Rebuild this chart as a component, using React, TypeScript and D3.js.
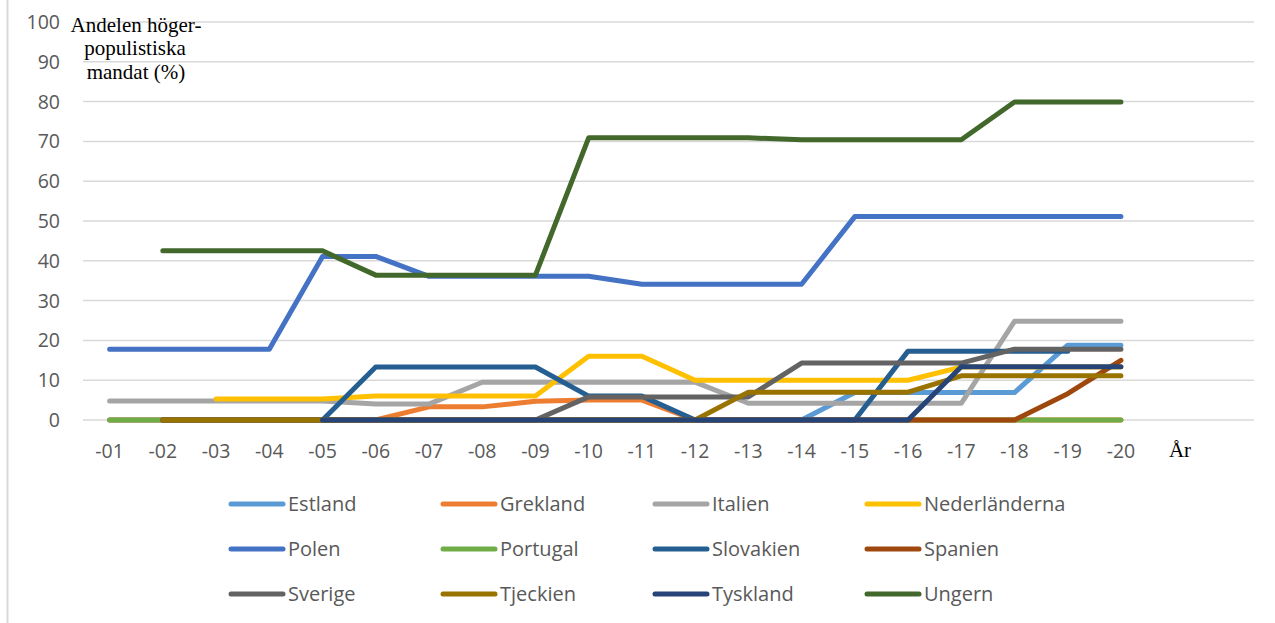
import React from "react";
import * as d3 from "d3";

const years = ["-01","-02","-03","-04","-05","-06","-07","-08","-09","-10","-11","-12","-13","-14","-15","-16","-17","-18","-19","-20"];
const extraCats = ["År", ""];
const yTicks = [0,10,20,30,40,50,60,70,80,90,100];

type V = number | null;
const estland: V[] =       [0,0,0,0,0,0,0,0,0,0,0,0,0,0,6.9,6.9,6.9,6.9,18.8,18.8];
const grekland: V[] =      [0,0,0,0,0,0,3.3,3.3,4.7,5.0,5.0,0,0,0,0,0,0,0,0,0];
const italien: V[] =       [4.8,4.8,4.8,4.8,4.8,4.0,4.0,9.5,9.5,9.5,9.5,9.5,4.2,4.2,4.2,4.2,4.2,24.8,24.8,24.8];
const nederlanderna: V[] = [null,null,5.3,5.3,5.3,6.0,6.0,6.0,6.0,16.0,16.0,10.0,10.0,10.0,10.0,10.0,13.3,13.3,13.3,13.3];
const polen: V[] =         [17.8,17.8,17.8,17.8,41.1,41.1,36.1,36.1,36.1,36.1,34.1,34.1,34.1,34.1,51.1,51.1,51.1,51.1,51.1,51.1];
const portugal: V[] =      [0,0,0,0,0,0,0,0,0,0,0,0,0,0,0,0,0,0,0,0];
const slovakien: V[] =     [null,0,0,0,0,13.3,13.3,13.3,13.3,6.0,6.0,0,0,0,0,17.3,17.3,17.3,17.3,null];
const spanien: V[] =       [null,0,0,0,0,0,0,0,0,0,0,0,0,0,0,0,0,0,6.6,15.0];
const sverige: V[] =       [null,0,0,0,0,0,0,0,0,5.8,5.8,5.8,5.8,14.3,14.3,14.3,14.3,17.8,17.8,17.8];
const tjeckien: V[] =      [null,0,0,0,0,0,0,0,0,0,0,0,7.0,7.0,7.0,7.0,11.1,11.1,11.1,11.1];
const tyskland: V[] =      [null,null,null,null,0,0,0,0,0,0,0,0,0,0,0,0,13.4,13.4,13.4,13.4];
const ungern: V[] =        [null,42.5,42.5,42.5,42.5,36.4,36.4,36.4,36.4,70.9,70.9,70.9,70.9,70.4,70.4,70.4,70.4,79.9,79.9,79.9];

const seriesNames = ["Estland","Grekland","Italien","Nederländerna","Polen","Portugal","Slovakien","Spanien","Sverige","Tjeckien","Tyskland","Ungern"];
const seriesValues = [estland,grekland,italien,nederlanderna,polen,portugal,slovakien,spanien,sverige,tjeckien,tyskland,ungern];
const seriesColors = ["#5B9BD5","#ED7D31","#A5A5A5","#FFC000","#4472C4","#70AD47","#255E91","#9E480E","#636363","#997300","#264478","#43682B"];

const W = 1275, H = 623;
const plotLeft = 83, plotRight = 1254, plotTop = 22, plotBottom = 420;

export default function App() {
  const x = d3.scaleBand<string>().domain([...years, ...extraCats]).range([plotLeft, plotRight]).paddingInner(0).paddingOuter(0);
  const y = d3.scaleLinear().domain([0, 100]).range([plotBottom, plotTop]);
  const cx = (c: string) => (x(c) as number) + x.bandwidth() / 2;
  const line = d3.line<V>()
    .defined((d) => d !== null)
    .x((_, i) => cx(years[i]))
    .y((d) => y(d as number));

  const sans = "'Open Sans', sans-serif";
  const serif = "'Liberation Serif', 'Times New Roman', serif";
  const legendCols = [229, 441, 653, 865];
  const legendRows = [504, 549, 594];

  return (
    <svg width={W} height={H} style={{ position: "absolute", left: 0, top: 0, background: "#fff" }}>
      <line x1={7.5} x2={7.5} y1={0} y2={H} stroke="#D9D9D9" strokeWidth={2} />
      {yTicks.map((t) => (
        <g key={t}>
          <line x1={plotLeft} x2={plotRight} y1={y(t)} y2={y(t)} stroke="#D9D9D9" strokeWidth={1.5} />
          <text x={60} y={y(t)} dy="0.36em" textAnchor="end" fontFamily={sans} fontSize={19.5} fill="#595959">{t}</text>
        </g>
      ))}
      {years.map((c) => (
        <text key={c} x={cx(c)} y={458} textAnchor="middle" fontFamily={sans} fontSize={19.5} fill="#595959">{c}</text>
      ))}
      <text x={1180} y={456.5} textAnchor="middle" fontFamily={serif} fontSize={21} fill="#000">{extraCats[0]}</text>
      {seriesValues.map((vals, i) => (
        <path key={seriesNames[i]} d={line(vals) || ""} fill="none" stroke={seriesColors[i]} strokeWidth={5} strokeLinejoin="round" strokeLinecap="round" />
      ))}
      <text fontFamily={serif} fontSize={21} fill="#000" textAnchor="middle">
        <tspan x={136} y={31.5}>Andelen höger-</tspan>
        <tspan x={135} y={55}>populistiska</tspan>
        <tspan x={136} y={78.5}>mandat (%)</tspan>
      </text>
      {seriesNames.map((name, i) => {
        const lx = legendCols[i % 4];
        const ly = legendRows[Math.floor(i / 4)];
        return (
          <g key={name}>
            <line x1={lx + 2} x2={lx + 54} y1={ly} y2={ly} stroke={seriesColors[i]} strokeWidth={5} strokeLinecap="round" />
            <text x={lx + 59} y={ly} dy="0.36em" fontFamily={sans} fontSize={20} fill="#595959">{name}</text>
          </g>
        );
      })}
    </svg>
  );
}
